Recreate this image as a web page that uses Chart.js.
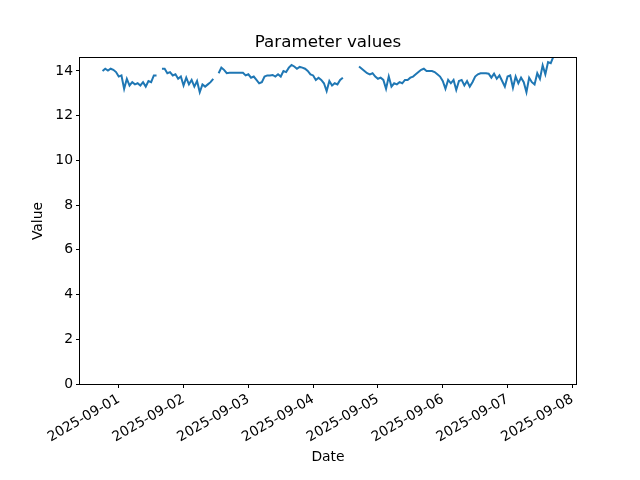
<!DOCTYPE html>
<html>
<head>
<meta charset="utf-8">
<script src="https://cdn.jsdelivr.net/npm/chart.js@4/dist/chart.umd.min.js"></script>
<style>
  body { margin: 0; background: #fff; }
  canvas { display: block; }
</style>
</head>
<body>
<canvas id="chart" width="640" height="480"></canvas>
<script>
// hourly readings, split where the record has gaps
const seg1Start = "2025-08-31T18:00:00Z";
const seg1Values = [14.0, 14.1, 14.02, 14.1, 14.05, 13.95, 13.75, 13.8, 13.2, 13.65,
  13.35, 13.5, 13.4, 13.45, 13.35, 13.5, 13.3, 13.55, 13.5, 13.8, 13.8];

const seg2Start = "2025-09-01T16:00:00Z";
const seg2Values = [14.1, 14.1, 13.9, 13.95, 13.8, 13.85, 13.65, 13.75, 13.35, 13.7,
  13.4, 13.6, 13.3, 13.55, 13.05, 13.4, 13.3, 13.4, 13.5, 13.65];

const seg3Start = "2025-09-02T13:00:00Z";
const seg3Values = [13.9, 14.15, 14.05, 13.9, 13.92, 13.92, 13.92, 13.92, 13.92, 13.92,
  13.8, 13.85, 13.7, 13.75, 13.6, 13.45, 13.5, 13.75, 13.8, 13.8,
  13.82, 13.75, 13.85, 13.75, 14.0, 13.95, 14.15, 14.27, 14.2, 14.1,
  14.18, 14.15, 14.1, 14.0, 13.85, 13.8, 13.6, 13.7, 13.6, 13.45,
  13.1, 13.55, 13.35, 13.45, 13.4, 13.6, 13.7];

const seg4Start = "2025-09-04T17:00:00Z";
const seg4Values = [14.2, 14.1, 14.0, 13.9, 13.85, 13.9, 13.75, 13.65, 13.7, 13.6,
  13.2, 13.75, 13.3, 13.45, 13.4, 13.5, 13.45, 13.6, 13.6, 13.7,
  13.75, 13.85, 13.95, 14.05, 14.1, 14.0, 14.0, 14.0, 13.95, 13.85,
  13.75, 13.55, 13.2, 13.6, 13.45, 13.6, 13.15, 13.55, 13.6, 13.35,
  13.55, 13.3, 13.5, 13.75, 13.85, 13.9, 13.9, 13.9, 13.88, 13.7,
  13.88, 13.65, 13.8, 13.55, 13.3, 13.75, 13.8, 13.25, 13.75, 13.45,
  13.7, 13.5, 13.05, 13.7, 13.5, 13.4, 13.9, 13.65, 14.25, 13.85,
  14.4, 14.35, 14.65];

const xTickDates = ["2025-09-01", "2025-09-02", "2025-09-03", "2025-09-04",
  "2025-09-05", "2025-09-06", "2025-09-07", "2025-09-08"];
const yTicks = [0, 2, 4, 6, 8, 10, 12, 14];
const yMax = 14.58;

const HOUR = 3600 * 1000;
const segments = [
  [seg1Start, seg1Values],
  [seg2Start, seg2Values],
  [seg3Start, seg3Values],
  [seg4Start, seg4Values],
];

const points = [];
segments.forEach(([start, vals], i) => {
  const t0 = Date.parse(start);
  if (i > 0) points.push({ x: t0 - HOUR / 2, y: null });
  vals.forEach((v, k) => points.push({ x: t0 + k * HOUR, y: v }));
});

const tFirst = points[0].x;
const tLast = points[points.length - 1].x;
const margin = (tLast - tFirst) * 0.05;

const FONT = "'DejaVu Sans', sans-serif";

const framePlugin = {
  id: "frame",
  afterDraw(chart) {
    const { ctx, chartArea: a } = chart;
    ctx.save();
    ctx.strokeStyle = "#000";
    ctx.lineWidth = 1;
    ctx.strokeRect(Math.round(a.left) - 0.5, Math.round(a.top) - 0.5,
      Math.round(a.right - a.left) + 1, Math.round(a.bottom - a.top) + 1);

    ctx.fillStyle = "#000";
    ctx.textAlign = "center";
    ctx.textBaseline = "middle";
    const cx = (a.left + a.right) / 2;
    ctx.font = "16.7px " + FONT;
    ctx.fillText("Parameter values", cx, 43);
    ctx.font = "13.9px " + FONT;
    ctx.fillText("Date", cx, 457);
    ctx.translate(38, (a.top + a.bottom) / 2);
    ctx.rotate(-Math.PI / 2);
    ctx.fillText("Value", 0, 0);
    ctx.restore();
  },
};

new Chart(document.getElementById("chart"), {
  type: "line",
  data: {
    datasets: [
      {
        data: points,
        borderColor: "#1f77b4",
        borderWidth: 2,
        pointRadius: 0,
        tension: 0,
        spanGaps: false,
      },
    ],
  },
  options: {
    responsive: false,
    animation: false,
    layout: { padding: { left: 0, right: 64, top: 58, bottom: 0 } },
    plugins: {
      legend: { display: false },
      tooltip: { enabled: false },
      title: { display: false },
    },
    scales: {
      x: {
        type: "linear",
        min: tFirst - margin,
        max: tLast + margin,
        afterBuildTicks: (axis) => {
          axis.ticks = xTickDates.map((d) => ({ value: Date.parse(d + "T00:00:00Z") }));
        },
        afterFit: (axis) => { axis.height = 96; },
        border: { display: false },
        grid: { drawOnChartArea: false, drawTicks: true, tickLength: 4, color: "#000" },
        ticks: {
          autoSkip: false,
          maxRotation: 30,
          minRotation: 30,
          padding: 3,
          color: "#000",
          font: { family: FONT, size: 13.9 },
          callback: (v) => new Date(v).toISOString().slice(0, 10),
        },
      },
      y: {
        min: 0,
        max: yMax,
        afterBuildTicks: (axis) => {
          axis.ticks = yTicks.map((v) => ({ value: v }));
        },
        afterFit: (axis) => { axis.width = 80; },
        border: { display: false },
        grid: { drawOnChartArea: false, drawTicks: true, tickLength: 4, color: "#000" },
        ticks: {
          padding: 3,
          color: "#000",
          font: { family: FONT, size: 13.9 },
        },
      },
    },
  },
  plugins: [framePlugin],
});
</script>
</body>
</html>
